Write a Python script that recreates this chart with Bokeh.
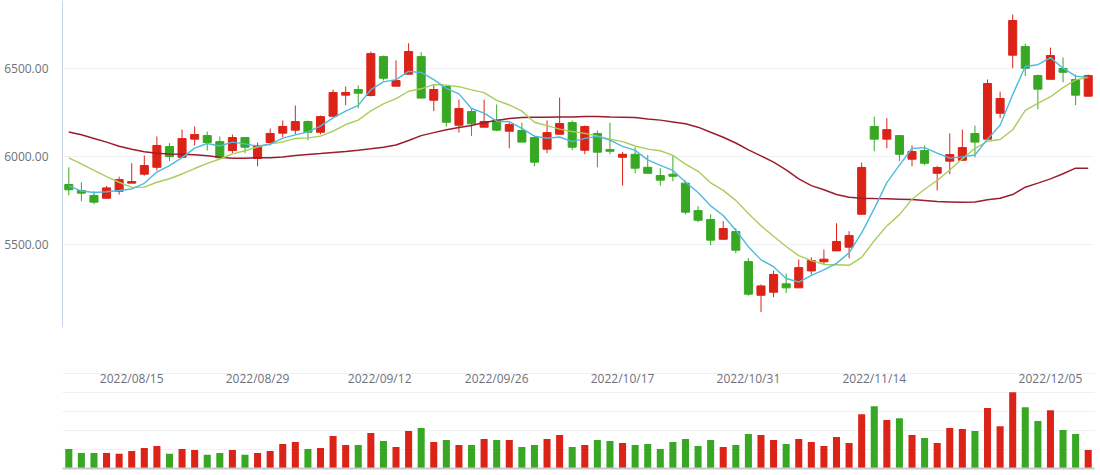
from bokeh.plotting import figure
from bokeh.layouts import column
from bokeh.models import Range1d, FixedTicker, PrintfTickFormatter, LinearAxis, ColumnDataSource, Grid
from bokeh.embed import file_html
from bokeh.resources import INLINE

# ---------------- data ----------------
open_ = [5839, 5805, 5777, 5761, 5801, 5847, 5898, 5937, 6055, 5994,
         6097, 6117, 6083, 6032, 6106, 5987, 6078, 6131, 6148, 6197,
         6136, 6227, 6347, 6379, 6345, 6566, 6398, 6466, 6566, 6318,
         6396, 6176, 6254, 6165, 6206, 6142, 6146, 6106, 6040, 6125,
         6191, 6034, 6129, 6038, 5994, 6011, 5937, 5890, 5898, 5847,
         5691, 5640, 5528, 5572, 5401, 5210, 5227, 5275, 5252, 5348,
         5400, 5462, 5483, 5670, 6169, 6097, 6117, 5983, 6032, 5903,
         5972, 5977, 6129, 6097, 6244, 6574, 6623, 6458, 6437, 6498,
         6436, 6341]
high = [5937, 5852, 5801, 5831, 5884, 5960, 6004, 6112, 6074, 6151,
        6169, 6140, 6112, 6123, 6106, 6078, 6157, 6203, 6288, 6203,
        6231, 6379, 6396, 6402, 6595, 6572, 6544, 6642, 6591, 6407,
        6402, 6322, 6273, 6322, 6294, 6191, 6191, 6117, 6203, 6333,
        6203, 6174, 6146, 6191, 6023, 6051, 6006, 5932, 6000, 5862,
        5716, 5670, 5631, 5591, 5420, 5271, 5350, 5333, 5413, 5426,
        5470, 5619, 5574, 5964, 6225, 6216, 6117, 6061, 6061, 5943,
        6129, 6151, 6174, 6436, 6367, 6805, 6640, 6464, 6617, 6561,
        6464, 6464]
low = [5778, 5744, 5727, 5761, 5782, 5847, 5890, 5919, 5972, 5994,
       6061, 6032, 5991, 6017, 6017, 5943, 6061, 6108, 6125, 6091,
       6125, 6227, 6290, 6273, 6339, 6430, 6398, 6466, 6330, 6256,
       6169, 6134, 6114, 6165, 6142, 6045, 6080, 5943, 6017, 6125,
       6034, 6011, 5937, 6011, 5833, 5903, 5903, 5833, 5858, 5670,
       5625, 5494, 5528, 5449, 5208, 5114, 5199, 5222, 5252, 5328,
       5388, 5462, 5420, 5670, 6028, 6045, 5972, 5943, 5949, 5805,
       5898, 5977, 5994, 6097, 6216, 6500, 6455, 6267, 6437, 6420,
       6290, 6341]
close = [5809, 5790, 5739, 5820, 5867, 5856, 5947, 6061, 5998, 6100,
         6123, 6078, 5991, 6106, 6051, 6061, 6129, 6169, 6197, 6136,
         6225, 6362, 6362, 6358, 6583, 6443, 6430, 6595, 6330, 6379,
         6193, 6271, 6184, 6197, 6148, 6180, 6080, 5966, 6134, 6186,
         6051, 6169, 6023, 6028, 6011, 5932, 5903, 5864, 5886, 5682,
         5636, 5523, 5589, 5466, 5216, 5263, 5328, 5252, 5367, 5407,
         5415, 5515, 5549, 5936, 6097, 6151, 6011, 6027, 5960, 5936,
         6009, 6049, 6080, 6413, 6328, 6771, 6500, 6381, 6572, 6477,
         6347, 6458]
volume = [103, 82, 82, 82, 77, 92, 108, 119, 77, 103,
          98, 72, 82, 98, 72, 82, 92, 129, 140, 103,
          108, 171, 124, 124, 187, 145, 113, 197, 213, 140,
          150, 124, 124, 155, 150, 150, 113, 124, 155, 176,
          113, 124, 150, 145, 134, 124, 129, 103, 140, 155,
          119, 150, 113, 124, 182, 176, 150, 129, 155, 140,
          119, 166, 134, 286, 328, 255, 265, 176, 161, 134,
          213, 208, 197, 318, 223, 401, 323, 250, 307, 202,
          182, 98]
ma5 = [5832, 5802, 5794, 5798, 5805, 5814, 5846, 5910, 5946, 5992,
       6046, 6072, 6058, 6080, 6070, 6057, 6068, 6103, 6121, 6138,
       6171, 6218, 6256, 6289, 6378, 6422, 6435, 6482, 6476, 6435,
       6385, 6354, 6271, 6245, 6199, 6196, 6158, 6114, 6102, 6109,
       6083, 6101, 6113, 6091, 6056, 6033, 5979, 5948, 5919, 5853,
       5794, 5718, 5663, 5579, 5486, 5411, 5372, 5305, 5285, 5323,
       5354, 5391, 5451, 5564, 5702, 5850, 5949, 6044, 6049, 6017,
       5989, 5996, 6007, 6097, 6176, 6350, 6510, 6520, 6560, 6500,
       6455, 6447]
ma10 = [5990, 5956, 5919, 5884, 5852, 5823, 5824, 5852, 5872, 5899,
        5930, 5959, 5984, 6013, 6031, 6052, 6070, 6081, 6101, 6104,
        6114, 6143, 6180, 6205, 6258, 6297, 6327, 6369, 6383, 6407,
        6404, 6395, 6377, 6361, 6317, 6291, 6256, 6193, 6174, 6154,
        6140, 6130, 6114, 6097, 6083, 6058, 6040, 6031, 6005, 5955,
        5914, 5849, 5806, 5749, 5675, 5605, 5545, 5487, 5435, 5407,
        5385, 5383, 5380, 5425, 5520, 5604, 5668, 5755, 5812, 5862,
        5922, 5985, 6045, 6085, 6095, 6150, 6260, 6300, 6338, 6390,
        6434, 6448]
ma30 = [6138, 6122, 6101, 6080, 6057, 6039, 6025, 6017, 6013, 6011,
        6008, 6002, 5994, 5989, 5989, 5991, 5991, 5996, 6004, 6010,
        6015, 6021, 6027, 6034, 6042, 6051, 6064, 6089, 6117, 6134,
        6150, 6163, 6174, 6191, 6203, 6214, 6220, 6222, 6222, 6223,
        6223, 6225, 6225, 6223, 6222, 6220, 6212, 6205, 6195, 6184,
        6165, 6136, 6108, 6075, 6036, 6002, 5966, 5922, 5871, 5833,
        5809, 5782, 5767, 5761, 5759, 5758, 5756, 5754, 5748, 5742,
        5740, 5738, 5740, 5752, 5761, 5782, 5824, 5847, 5871, 5900,
        5932, 5932]
date_labels = ["2022/08/15", "2022/08/29", "2022/09/12", "2022/09/26",
               "2022/10/17", "2022/10/31", "2022/11/14", "2022/12/05"]
date_tick_pos = [5, 15, 24.7, 34, 44, 54, 64, 78]
price_ticks = [5500, 6000, 6500]
vol_grid = [100, 200, 300, 400, 500]

# ---------------- styles ----------------
RED = "#dc2318"
GREEN = "#38a824"
LABEL = "#6e7079"
GRID = "#eef1f6"

n = len(close)
colors = [RED if c >= o else GREEN for o, c in zip(open_, close)]
src = ColumnDataSource(dict(
    x=list(range(n)), open=open_, close=close, high=high, low=low,
    top=[max(o, c) for o, c in zip(open_, close)],
    bottom=[min(o, c) for o, c in zip(open_, close)],
    color=colors, volume=volume, ma5=ma5, ma10=ma10, ma30=ma30))

x_range = Range1d(-0.5, n - 0.5)

# ---------------- price panel ----------------
p1 = figure(width=1100, height=340, x_range=x_range, y_range=Range1d(5026.7, 6884.7),
            output_backend="svg", toolbar_location=None, x_axis_location=None,
            min_border_left=62, min_border_right=6, min_border_top=0, min_border_bottom=13)
p1.outline_line_color = None
p1.border_fill_color = "white"
p1.xgrid.visible = False
for g in p1.grid:
    if g.dimension == 0:
        g.visible = False
p1.yaxis.ticker = FixedTicker(ticks=price_ticks)
p1.yaxis.formatter = PrintfTickFormatter(format="%.2f")
p1.yaxis.axis_line_color = "#c6d4ea"
p1.yaxis.major_tick_line_color = None
p1.yaxis.minor_tick_line_color = None
p1.yaxis.major_tick_out = 0
p1.yaxis.major_tick_in = 0
p1.yaxis.minor_tick_out = 0
p1.yaxis.minor_tick_in = 0
p1.yaxis.major_label_standoff = 14
p1.yaxis.major_label_text_font = "Open Sans"
p1.yaxis.major_label_text_font_size = "12px"
p1.yaxis.major_label_text_color = LABEL
p1.ygrid.ticker = FixedTicker(ticks=price_ticks)
p1.ygrid.grid_line_color = GRID

p1.segment(x0="x", y0="low", x1="x", y1="high", line_color="color", line_width=1, source=src)
p1.vbar(x="x", width=0.64, top="top", bottom="bottom", fill_color="color",
        line_color="color", line_width=1, source=src)
p1.line("x", "ma30", line_color="#9b1d2c", line_width=1.5, source=src)
p1.line("x", "ma10", line_color="#a8cd5a", line_width=1.4, source=src)
p1.line("x", "ma5", line_color="#4fbadc", line_width=1.4, source=src)

# ---------------- volume panel ----------------
p2 = figure(width=1100, height=135, x_range=x_range, y_range=Range1d(0, 505.3),
            output_backend="svg", toolbar_location=None, y_axis_location=None,
            min_border_left=62, min_border_right=6, min_border_top=32, min_border_bottom=7)
p2.outline_line_color = None
p2.border_fill_color = "white"
p2.xgrid.visible = False
for g in p2.grid:
    if g.dimension == 0:
        g.visible = False
p2.add_layout(Grid(dimension=1, ticker=FixedTicker(ticks=vol_grid), grid_line_color=GRID))

p2.xaxis.ticker = FixedTicker(ticks=[])
p2.xaxis.axis_line_color = "#d3dbe8"
p2.xaxis.major_tick_out = 0
p2.xaxis.major_tick_in = 0
p2.xaxis.minor_tick_out = 0
p2.xaxis.minor_tick_in = 0
p2.xaxis.major_label_standoff = 4

date_axis = LinearAxis(ticker=FixedTicker(ticks=date_tick_pos),
                       major_label_overrides=dict(zip(date_tick_pos, date_labels)),
                       axis_line_color=None, major_tick_line_color=None, minor_tick_line_color=None,
                       major_tick_out=0, major_tick_in=0, minor_tick_out=0, minor_tick_in=0,
                       major_label_standoff=-14, major_label_text_font="Open Sans",
                       major_label_text_font_size="12px", major_label_text_color=LABEL)
p2.add_layout(date_axis, "above")

slider_axis = LinearAxis(ticker=FixedTicker(ticks=[]), axis_line_color="#c9c9c9", axis_line_width=2,
                         major_tick_out=0, major_tick_in=0, minor_tick_out=0, minor_tick_in=0,
                         major_label_standoff=0)
p2.add_layout(slider_axis, "below")

p2.vbar(x="x", width=0.56, top="volume", bottom=0, fill_color="color", line_color=None, source=src)

layout = column(p1, p2, spacing=0)
open("out.html", "w").write(file_html(layout, INLINE))
